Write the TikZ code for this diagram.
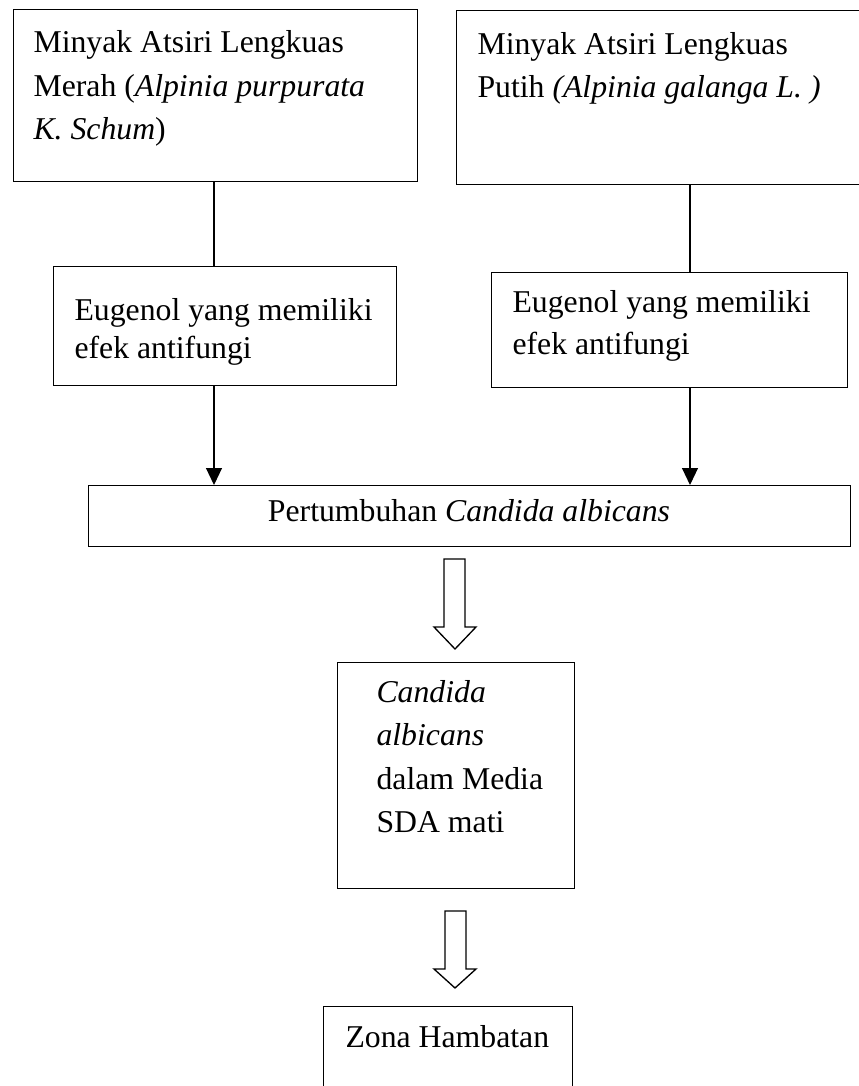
\documentclass[tikz,border=0pt]{standalone}
\usepackage{fontspec}
\setmainfont{Liberation Serif}
\usetikzlibrary{arrows.meta,calc}
\tikzset{
  box/.style={draw=black, line width=0.5pt, inner sep=0pt, anchor=north west},
  txt/.style={inner sep=0pt, anchor=base west},
  conn/.style={draw=black, line width=0.5pt},
  arr/.style={conn, -{Triangle[length=6.4pt,width=6pt]}},
  blk/.style={draw=black, line width=0.5pt, fill=white, line join=miter},
}
\newcommand{\lines}[3]{\parbox[t]{#1}{\fontsize{12pt}{#2}\selectfont\raggedright #3}}
\begin{document}
\begin{tikzpicture}[x=0.378pt,y=-0.378pt]
\useasboundingbox (0,0) rectangle (859,1086);
\fill[white] (0,0) rectangle (859,1086);
% boxes
\node[box, minimum width=404.3*0.378pt, minimum height=172*0.378pt] (b1) at (12.7,9) {};
\node[box, minimum width=406*0.378pt, minimum height=174*0.378pt] (b2) at (456,10) {};
\node[box, minimum width=343*0.378pt, minimum height=119*0.378pt] (e1) at (53,266) {};
\node[box, minimum width=356*0.378pt, minimum height=115*0.378pt] (e2) at (491,272) {};
\node[box, minimum width=762*0.378pt, minimum height=61*0.378pt] (pert) at (88,485) {};
\node[box, minimum width=237*0.378pt, minimum height=226*0.378pt] (cand) at (337,662) {};
\node[box, minimum width=249*0.378pt, minimum height=100*0.378pt] (zona) at (323,1006) {};
% texts
\node[txt] (t1) at (33,53) {\lines{150pt}{16.3pt}{Minyak Atsiri Lengkuas\\Merah (\textit{Alpinia purpurata}\\\textit{K. Schum})}};
\node[txt] (t2) at (477,55) {\lines{150pt}{15.9pt}{Minyak Atsiri Lengkuas\\Putih \textit{(Alpinia galanga L. )}}};
\node[txt] (t3) at (74,320) {\lines{150pt}{14.4pt}{Eugenol yang memiliki\\efek antifungi}};
\node[txt] (t4) at (512,312) {\lines{150pt}{16.2pt}{Eugenol yang memiliki\\efek antifungi}};
\node[inner sep=0pt, anchor=base] (t5) at (469,521) {\fontsize{12pt}{14pt}\selectfont Pertumbuhan \textit{Candida albicans}};
\node[txt] (t6) at (376,702) {\lines{80pt}{16.5pt}{\textit{Candida}\\\textit{albicans}\\dalam Media\\SDA mati}};
\node[txt] (t7) at (345,1047) {\fontsize{12pt}{14pt}\selectfont Zona Hambatan};
% connectors
\coordinate (c1) at (214,0);
\coordinate (c2) at (690,0);
\draw[conn] (c1 |- b1.south) -- (c1 |- e1.north);
\draw[conn] (c2 |- b2.south) -- (c2 |- e2.north);
\draw[arr] (c1 |- e1.south) -- (c1 |- pert.north);
\draw[arr] (c2 |- e2.south) -- (c2 |- pert.north);
% block arrows
\draw[blk] (444,559) -- (465,559) -- (465,627) -- (476,627) -- (455,649) -- (434,627) -- (444,627) -- cycle;
\draw[blk] (445,911) -- (466,911) -- (466,969) -- (476,969) -- (455,988) -- (434,969) -- (445,969) -- cycle;
\end{tikzpicture}
\end{document}
